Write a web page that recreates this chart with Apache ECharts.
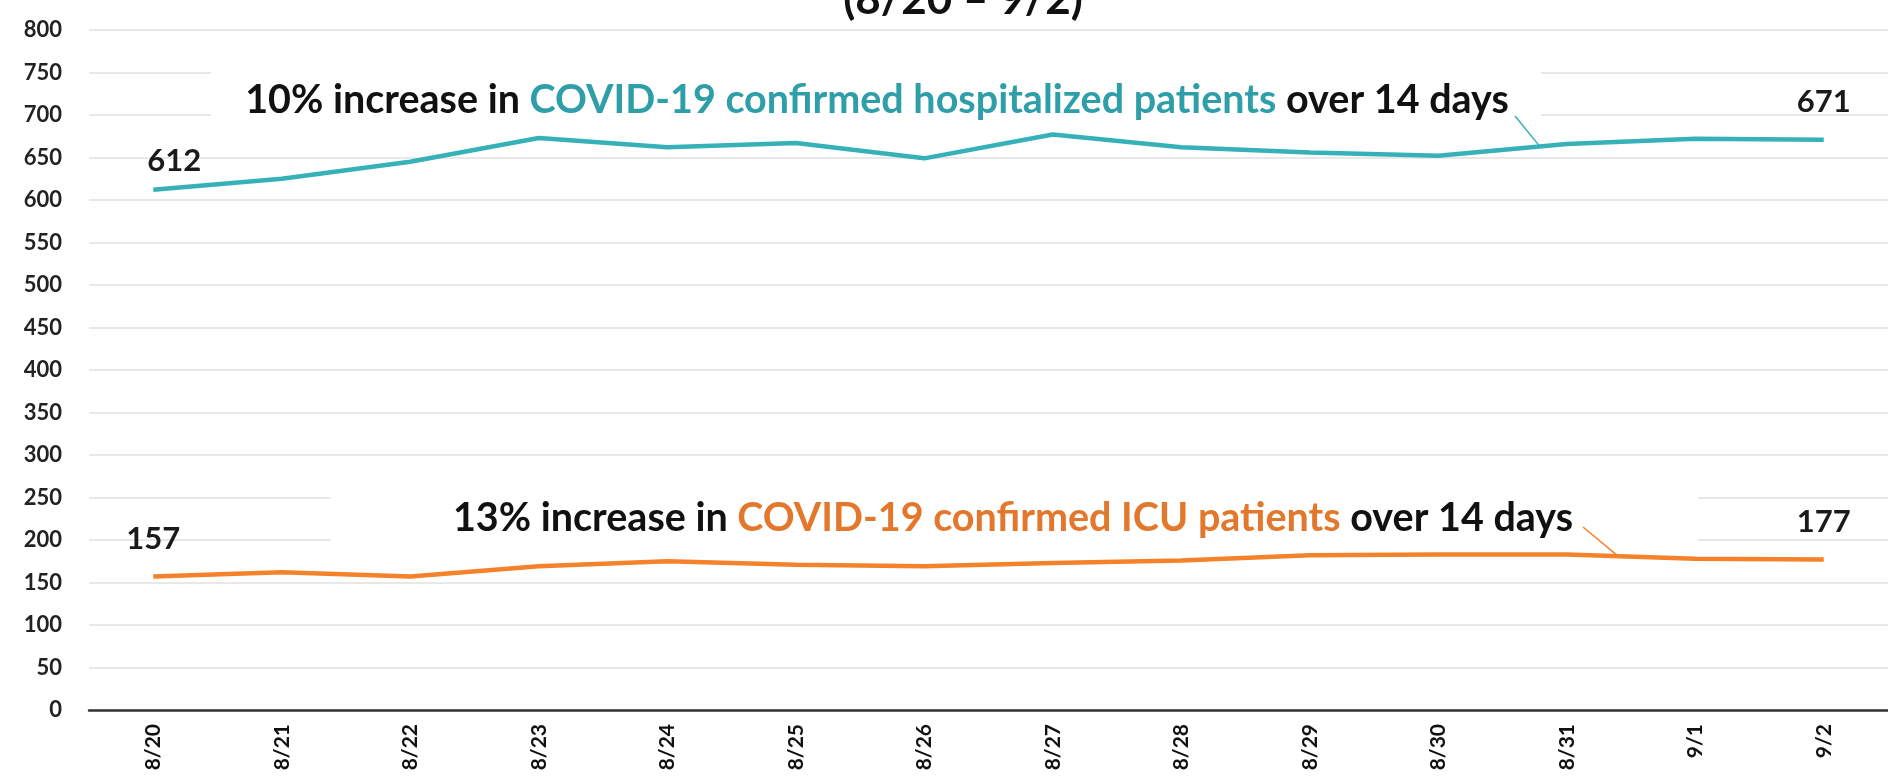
<!DOCTYPE html>
<html>
<head>
<meta charset="utf-8">
<script src="https://cdn.jsdelivr.net/npm/echarts@6/dist/echarts.min.js"></script>
<style>
html,body{margin:0;padding:0;background:#fff;}
#chart{width:1888px;height:777px;}
</style>
</head>
<body>
<div id="chart"></div>
<script>
// ---- data ----
const categories = ['8/20','8/21','8/22','8/23','8/24','8/25','8/26','8/27','8/28','8/29','8/30','8/31','9/1','9/2'];
const hospitalized = [612, 625, 645, 673, 662, 667, 649, 677, 662, 656, 652, 666, 672, 671];
const icu = [157, 162, 157, 169, 175, 171, 169, 173, 176, 182, 183, 183, 178, 177];
const yMin = 0, yMax = 800, yStep = 50;
const titleText = '(8/20 \u2013 9/2)';
const hospNote = ['10% increase in ', 'COVID-19 confirmed hospitalized patients', ' over 14 days'];
const icuNote = ['13% increase in ', 'COVID-19 confirmed ICU patients', ' over 14 days'];

// ---- styles ----
const FONT = 'Lato, "Open Sans", sans-serif';
const TEAL = '#36B1B8', TEAL_TEXT = '#2E9EA8';
const ORANGE = '#F5822A', ORANGE_TEXT = '#E3782C';

function endLabels(values, firstOffset) {
  return values.map((v, i) => {
    if (i === 0 || i === values.length - 1) {
      return {
        value: v,
        label: {
          show: true, position: 'top', distance: 22,
          offset: i === 0 ? firstOffset : [0, 0],
          color: '#1a1a1a', fontFamily: FONT, fontWeight: 'bold', fontSize: 31
        }
      };
    }
    return v;
  });
}

const chart = echarts.init(document.getElementById('chart'), null, {renderer: 'canvas'});
chart.setOption({
  animation: false,
  backgroundColor: '#fff',
  title: {
    text: titleText, left: 958, textAlign: 'center', top: -27,
    textStyle: {fontFamily: FONT, fontWeight: 'bold', fontSize: 44, color: '#111'}
  },
  grid: {left: 89, right: -7, top: 30, bottom: 67, containLabel: false},
  xAxis: {
    type: 'category', data: categories, boundaryGap: true,
    axisLine: {lineStyle: {color: '#333', width: 2.5}},
    axisTick: {show: false},
    axisLabel: {rotate: 90, margin: 14, color: '#111', fontFamily: FONT, fontSize: 21, fontWeight: 'bold', interval: 0}
  },
  yAxis: {
    type: 'value', min: yMin, max: yMax, interval: yStep,
    axisLine: {show: false}, axisTick: {show: false},
    splitLine: {lineStyle: {color: '#e8e8e8', width: 2}},
    axisLabel: {margin: 27, color: '#222', fontFamily: FONT, fontSize: 22, fontWeight: 'bold'}
  },
  series: [
    {
      type: 'line', name: 'Hospitalized', data: endLabels(hospitalized, [21, 9]),
      symbol: 'circle', symbolSize: 0, showSymbol: true, smooth: false,
      lineStyle: {color: TEAL, width: 4.5}, itemStyle: {color: TEAL}, z: 3
    },
    {
      type: 'line', name: 'ICU', data: endLabels(icu, [0, 0]),
      symbol: 'circle', symbolSize: 0, showSymbol: true, smooth: false,
      lineStyle: {color: ORANGE, width: 4.5}, itemStyle: {color: ORANGE}, z: 3
    }
  ]
});

// annotation boxes + leader lines
function lerpPx(series, i, t) {
  const a = chart.convertToPixel({xAxisIndex: 0, yAxisIndex: 0}, [i, series[i]]);
  const b = chart.convertToPixel({xAxisIndex: 0, yAxisIndex: 0}, [i + 1, series[i + 1]]);
  return [a[0] + (b[0] - a[0]) * t, a[1] + (b[1] - a[1]) * t];
}
const hEnd = lerpPx(hospitalized, 10, 0.79);
const iEnd = lerpPx(icu, 11, 0.40);

function note(parts, color, cx, cy) {
  return {
    type: 'text', x: cx, y: cy, z: 6,
    style: {
      text: '{a|' + parts[0] + '}{b|' + parts[1] + '}{a|' + parts[2] + '}',
      align: 'center', verticalAlign: 'middle',
      rich: {
        a: {fontFamily: FONT, fontWeight: 'bold', fontSize: 39.5, fill: '#111', color: '#111'},
        b: {fontFamily: FONT, fontWeight: 'bold', fontSize: 39.5, fill: color, color: color}
      }
    }
  };
}

chart.setOption({
  graphic: [
    {type: 'rect', z: 5, shape: {x: 211, y: 60, width: 1330, height: 66}, style: {fill: '#fff'}},
    {type: 'rect', z: 5, shape: {x: 331, y: 486, width: 1367, height: 60}, style: {fill: '#fff'}},
    note(hospNote, TEAL_TEXT, 877, 100),
    note(icuNote, ORANGE_TEXT, 1013, 518),
    {type: 'line', z: 6, shape: {x1: 1515, y1: 116, x2: hEnd[0], y2: hEnd[1]}, style: {stroke: TEAL, lineWidth: 1.5}},
    {type: 'line', z: 6, shape: {x1: 1583, y1: 527, x2: iEnd[0], y2: iEnd[1]}, style: {stroke: ORANGE, lineWidth: 1.5}}
  ]
});
</script>
</body>
</html>
